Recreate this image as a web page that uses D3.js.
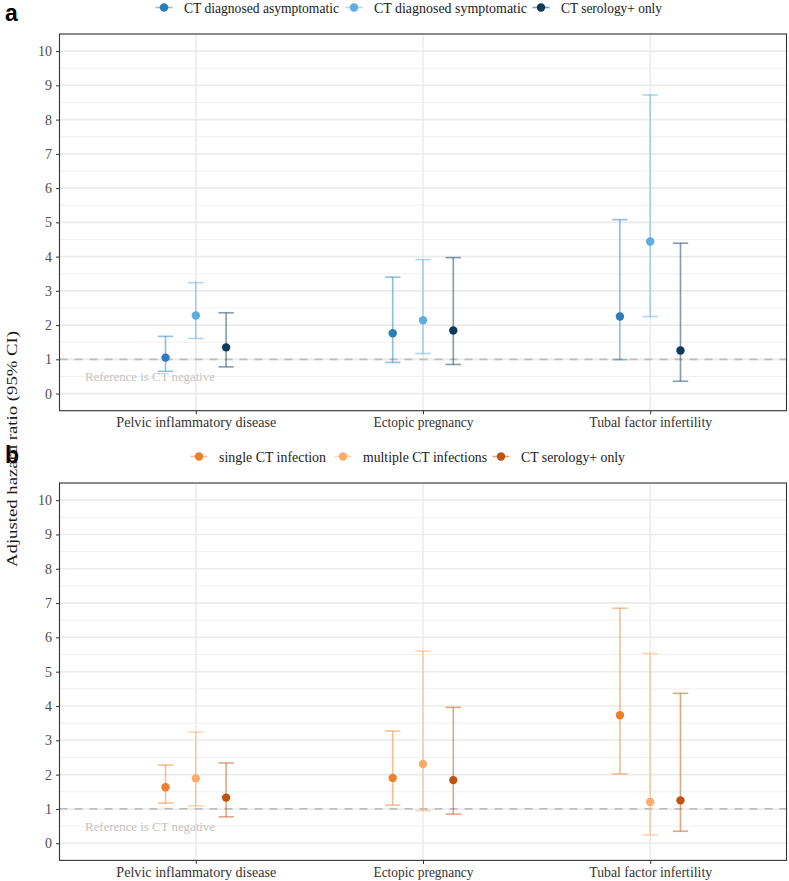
<!DOCTYPE html>
<html><head><meta charset="utf-8">
<script src="https://cdn.jsdelivr.net/npm/d3@7"></script>
<style>body{margin:0;background:#fff}</style>
</head><body>
<script>
// ---------- data ----------
const outcomes = ["Pelvic inflammatory disease", "Ectopic pregnancy", "Tubal factor infertility"];
const yTicks = [0,1,2,3,4,5,6,7,8,9,10];

const groupsA = ["CT diagnosed asymptomatic", "CT diagnosed symptomatic", "CT serology+ only"];
const colorsA = ["#2a7db8", "#5dade2", "#0d3a58"];
// per group: values per outcome
const estA  = [[1.05, 1.76, 2.25], [2.28, 2.14, 4.44], [1.35, 1.84, 1.26]];
const lowA  = [[0.65, 0.91, 0.99], [1.61, 1.17, 2.25], [0.78, 0.85, 0.36]];
const highA = [[1.67, 3.40, 5.08], [3.24, 3.91, 8.72], [2.36, 3.97, 4.39]];

const groupsB = ["single CT infection", "multiple CT infections", "CT serology+ only"];
const colorsB = ["#ef7f2d", "#fdab68", "#c0530f"];
const estB  = [[1.63, 1.90, 3.73], [1.89, 2.31, 1.20], [1.33, 1.84, 1.25]];
const lowB  = [[1.17, 1.11, 2.02], [1.09, 0.95, 0.24], [0.77, 0.85, 0.35]];
const highB = [[2.28, 3.27, 6.85], [3.24, 5.60, 5.53], [2.34, 3.96, 4.37]];

const refLabel = "Reference is CT negative";
const yTitle = "Adjusted hazard ratio (95% CI)";

// ---------- layout ----------
const W = 789, H = 881;
const svg = d3.select("body").append("svg").attr("width", W).attr("height", H)
  .style("font-family", "'Liberation Serif', 'Times New Roman', serif");

const left = 59.5, right = 786.5;
const catWidths = {"Pelvic inflammatory disease": 160, "Ectopic pregnancy": 100, "Tubal factor infertility": 123};

function panel(cfg) {
  const {top, bottom, groups, colors, est, low, high, tag, tagY, legendY, legendX, legendW} = cfg;
  const x = d3.scalePoint().domain(outcomes).range([left, right]).padding(0.6);
  const step = x.step();
  const dodge = d3.scalePoint().domain(groups).range([-0.4*step/3, 0.4*step/3]);
  const y = d3.scaleLinear().domain([-0.5, 10.5]).range([bottom, top]);
  const g = svg.append("g");

  // grid
  const minor = d3.range(-0.5, 10.51, 0.5).filter(v => Math.abs(v - Math.round(v)) > 0.01);
  g.selectAll(".mn").data(minor).join("line")
    .attr("x1", left).attr("x2", right).attr("y1", d => y(d)).attr("y2", d => y(d))
    .attr("stroke", "#f0f0f0").attr("stroke-width", 1);
  g.selectAll(".mj").data(yTicks).join("line")
    .attr("x1", left).attr("x2", right).attr("y1", d => y(d)).attr("y2", d => y(d))
    .attr("stroke", "#ebebeb").attr("stroke-width", 1.6);
  g.selectAll(".vx").data(outcomes).join("line")
    .attr("x1", d => x(d)).attr("x2", d => x(d)).attr("y1", top).attr("y2", bottom)
    .attr("stroke", "#ebebeb").attr("stroke-width", 1.6);

  // reference line
  g.append("line").attr("x1", left).attr("x2", right).attr("y1", y(1)).attr("y2", y(1))
    .attr("stroke", "#bdbdbd").attr("stroke-width", 1.8).attr("stroke-dasharray", "8,7");
  g.append("text").attr("x", 85).attr("y", y(0.5)+4.5).attr("font-size", 12.5)
    .attr("textLength", 130).attr("lengthAdjust", "spacingAndGlyphs")
    .attr("fill", "#c4c4c4").text(refLabel);

  // data
  groups.forEach((gr, gi) => {
    const rows = outcomes.map((o, oi) => ({o, e: est[gi][oi], l: low[gi][oi], h: high[gi][oi]}));
    const cx = d => x(d.o) + dodge(gr);
    const eg = g.append("g").attr("stroke", colors[gi]).attr("stroke-opacity", 0.5).attr("stroke-width", 1.6);
    eg.selectAll(".v").data(rows).join("line")
      .attr("x1", cx).attr("x2", cx).attr("y1", d => y(d.l)).attr("y2", d => y(d.h));
    eg.selectAll(".ct").data(rows).join("line")
      .attr("x1", d => cx(d) - 7.7).attr("x2", d => cx(d) + 7.7).attr("y1", d => y(d.h)).attr("y2", d => y(d.h));
    eg.selectAll(".cb").data(rows).join("line")
      .attr("x1", d => cx(d) - 7.7).attr("x2", d => cx(d) + 7.7).attr("y1", d => y(d.l)).attr("y2", d => y(d.l));
    g.selectAll(".p" + gi).data(rows).join("circle")
      .attr("cx", cx).attr("cy", d => y(d.e)).attr("r", 4.2).attr("fill", colors[gi]);
  });

  // border
  g.append("rect").attr("x", left).attr("y", top).attr("width", right - left).attr("height", bottom - top)
    .attr("fill", "none").attr("stroke", "#333").attr("stroke-width", 1.1);

  // y axis
  const ya = g.append("g").attr("transform", `translate(${left},0)`)
    .call(d3.axisLeft(y).tickValues(yTicks).tickSize(3.5).tickPadding(4).tickFormat(d3.format("d")));
  ya.select(".domain").remove();
  ya.selectAll(".tick line").attr("stroke", "#333");
  ya.selectAll("text").attr("font-size", 14).attr("fill", "#4d4d4d")
    .attr("font-family", "'Liberation Serif', serif");

  // x axis
  const xa = g.append("g").attr("transform", `translate(0,${bottom})`)
    .call(d3.axisBottom(x).tickSize(3.5).tickPadding(3));
  xa.select(".domain").remove();
  xa.selectAll(".tick line").attr("stroke", "#333");
  xa.selectAll("text").attr("font-size", 14.5).attr("fill", "#333")
    .attr("textLength", d => catWidths[d]).attr("lengthAdjust", "spacingAndGlyphs")
    .attr("font-family", "'Liberation Serif', serif");

  // tag
  svg.append("text").attr("x", 5).attr("y", tagY).attr("font-family", "'Liberation Sans', Arial, sans-serif")
    .attr("font-weight", "bold").attr("font-size", 23).attr("fill", "#000").text(tag);

  // legend
  const lg = svg.append("g");
  groups.forEach((gr, gi) => {
    const lx = legendX[gi];
    lg.append("line").attr("x1", lx - 8.5).attr("x2", lx + 8.5).attr("y1", legendY).attr("y2", legendY)
      .attr("stroke", colors[gi]).attr("stroke-opacity", 0.5).attr("stroke-width", 1.6);
    lg.append("circle").attr("cx", lx).attr("cy", legendY).attr("r", 4.2).attr("fill", colors[gi]);
    lg.append("text").attr("x", lx + 20).attr("y", legendY + 5).attr("font-size", 15)
      .attr("textLength", legendW[gi]).attr("lengthAdjust", "spacingAndGlyphs")
      .attr("fill", "#1a1a1a").text(gr);
  });
}

panel({top: 34, bottom: 410.7, groups: groupsA, colors: colorsA, est: estA, low: lowA, high: highA,
       tag: "a", tagY: 21, legendY: 7.5, legendX: [164, 354, 541], legendW: [155, 153, 101]});
panel({top: 483, bottom: 860.4, groups: groupsB, colors: colorsB, est: estB, low: lowB, high: highB,
       tag: "b", tagY: 463, legendY: 456.5, legendX: [199, 343, 501], legendW: [107, 124, 104]});

svg.append("text").attr("transform", `translate(17,449) rotate(-90)`).attr("text-anchor", "middle")
  .attr("font-size", 15.5).attr("textLength", 236).attr("lengthAdjust", "spacingAndGlyphs")
  .attr("fill", "#1a1a1a").text(yTitle);
</script>
</body></html>
